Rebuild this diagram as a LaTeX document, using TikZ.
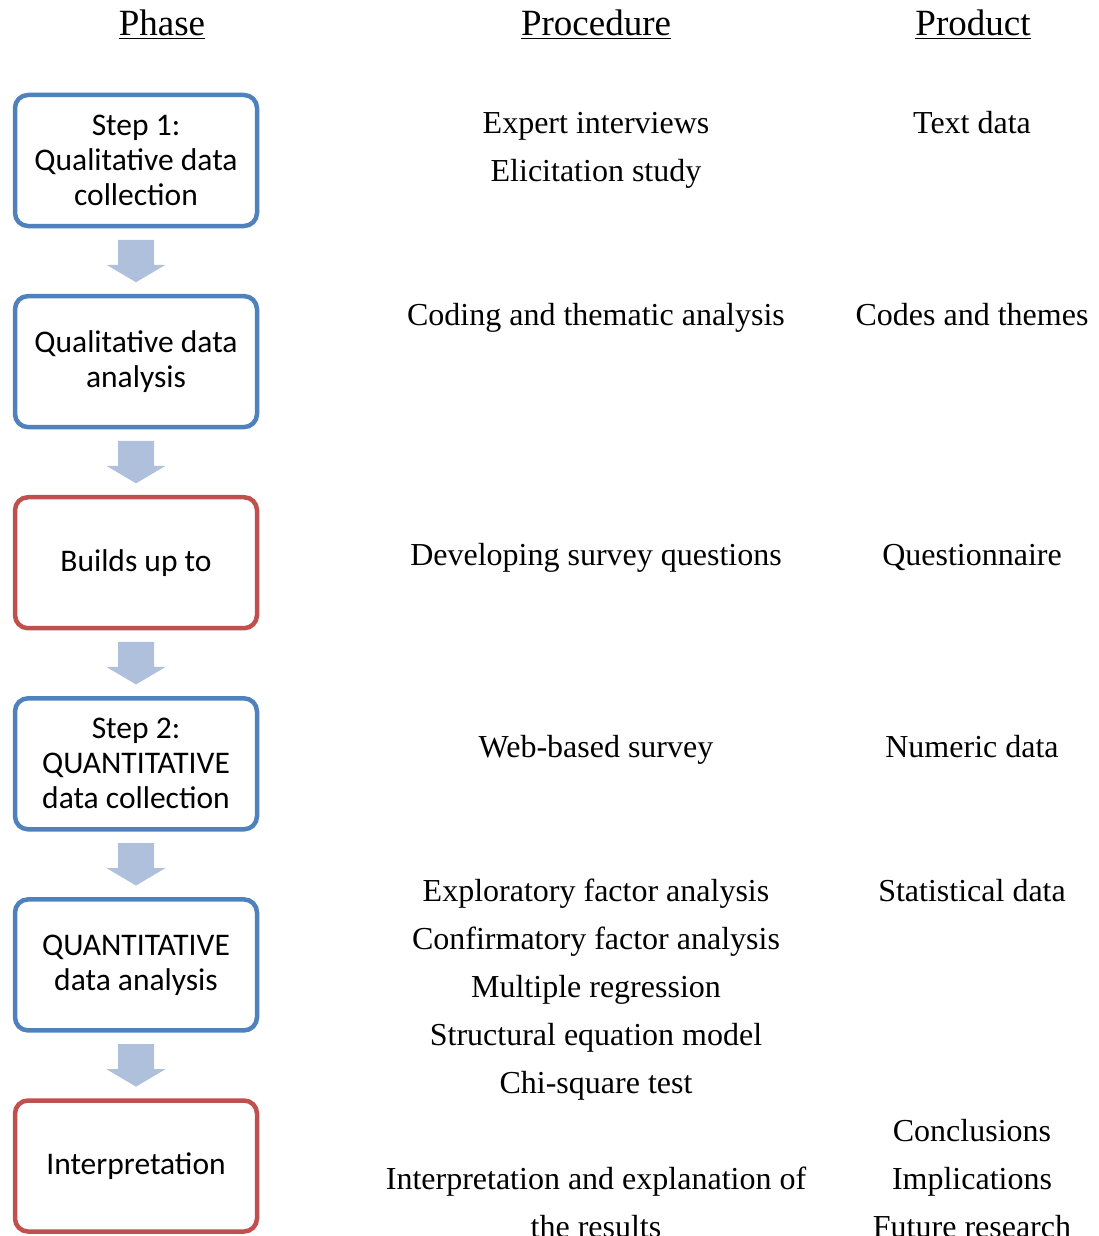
\documentclass[tikz,border=0pt]{standalone}
\usepackage{fontspec}
\setmainfont{Liberation Serif}
\newfontfamily\boxfont{Carlito}
\usetikzlibrary{calc}
\definecolor{boxblue}{HTML}{4F81BD}
\definecolor{boxred}{HTML}{C0504D}
\definecolor{arrowblue}{HTML}{AFC0DD}
\tikzset{
  phasebox/.style={draw=#1, line width=4.5pt, rounded corners=13pt,
    minimum width=242pt, minimum height=131pt, inner sep=0pt, align=center,
    font=\boxfont\fontsize{31.5}{35}\selectfont},
  txt/.style={font=\fontsize{32}{48}\selectfont, inner sep=0pt, anchor=base},
  head/.style={font=\fontsize{37}{42}\selectfont, inner sep=0pt, anchor=base},
}
\newcommand\blockarrow[2]{%
  \fill[arrowblue] ($(#1.south)+(-18,-11.5)$) -- ($(#1.south)+(18,-11.5)$)
    -- ($(#1.south)+(18,-36.5)$) -- ($(#1.south)+(29.5,-36.5)$)
    -- ($(#2.north)+(0,11.6)$) -- ($(#1.south)+(-29.5,-36.5)$)
    -- ($(#1.south)+(-18,-36.5)$) -- cycle;}
\begin{document}
\begin{tikzpicture}[x=1pt,y=1pt]
\useasboundingbox (0,0) rectangle (1099,-1236);
\clip (0,0) rectangle (1099,-1236);
% headings
\node[head] (hphase) at (162,-36) {\underline{Phase}};
\node[head] (hproc) at (596,-36) {\underline{Procedure}};
\node[head] (hprod) at (973,-36) {\underline{Product}};
% phase boxes
\node[phasebox=boxblue] (b1) at (136,-160.5) {Step 1:\\Qualitative data\\collection};
\node[phasebox=boxblue] (b2) at (136,-361.6) {Qualitative data\\analysis};
\node[phasebox=boxred]  (b3) at (136,-562.7) {Builds up to};
\node[phasebox=boxblue] (b4) at (136,-763.8) {Step 2:\\QUANTITATIVE\\data collection};
\node[phasebox=boxblue] (b5) at (136,-964.9) {QUANTITATIVE\\data analysis};
\node[phasebox=boxred]  (b6) at (136,-1166) {Interpretation};
% arrows
\blockarrow{b1}{b2}
\blockarrow{b2}{b3}
\blockarrow{b3}{b4}
\blockarrow{b4}{b5}
\blockarrow{b5}{b6}
% procedures
\node[txt] (p1a) at (596,-133.5) {Expert interviews};
\node[txt] (p1b) at (596,-181.5) {Elicitation study};
\node[txt] (p2)  at (596,-325.5) {Coding and thematic analysis};
\node[txt] (p3)  at (596,-565.5) {Developing survey questions};
\node[txt] (p4)  at (596,-757.5) {Web-based survey};
\node[txt] (p5a) at (596,-901.5) {Exploratory factor analysis};
\node[txt] (p5b) at (596,-949.5) {Confirmatory factor analysis};
\node[txt] (p5c) at (596,-997.5) {Multiple regression};
\node[txt] (p5d) at (596,-1045.5) {Structural equation model};
\node[txt] (p5e) at (596,-1093.5) {Chi-square test};
\node[txt] (p6a) at (596,-1189.5) {Interpretation and explanation of};
\node[txt] (p6b) at (596,-1237.5) {the results};
% products
\node[txt] (d1)  at (972,-133.5) {Text data};
\node[txt] (d2)  at (972,-325.5) {Codes and themes};
\node[txt] (d3)  at (972,-565.5) {Questionnaire};
\node[txt] (d4)  at (972,-757.5) {Numeric data};
\node[txt] (d5)  at (972,-901.5) {Statistical data};
\node[txt] (d6a) at (972,-1141.5) {Conclusions};
\node[txt] (d6b) at (972,-1189.5) {Implications};
\node[txt] (d6c) at (972,-1237.5) {Future research};
\end{tikzpicture}
\end{document}
